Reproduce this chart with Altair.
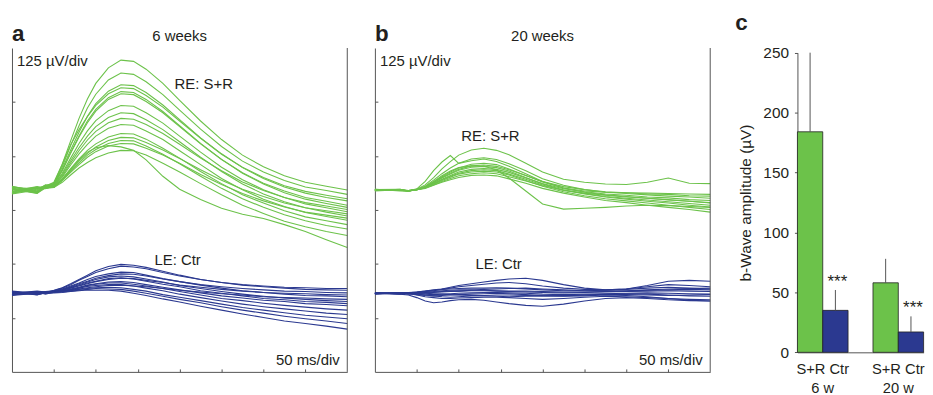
import altair as alt
import pandas as pd

# ---------------- data ----------------
T_MS = [0, 30, 40, 50, 60, 70, 80, 90, 100, 115, 130, 145, 160, 180, 200, 225, 250, 275, 300, 325, 350, 375, 400]

# panel a (6 weeks) - deviation from each trace group's baseline, in microvolts
GREEN_A = [
    [5, -6, 9, 18, 60, 114, 166, 211, 247, 283, 301, 298, 280, 247, 208, 160, 117, 81, 54, 33, 18, 9, 0],
    [-7, 4, 6, 16, 54, 103, 149, 190, 222, 255, 271, 268, 251, 221, 185, 141, 101, 67, 42, 22, 7, -1, -10],
    [8, -2, 11, 15, 49, 93, 134, 171, 200, 229, 244, 242, 226, 197, 163, 121, 84, 52, 27, 7, -7, -17, -25],
    [-4, 7, 5, 14, 60, 105, 140, 170, 196, 223, 237, 235, 219, 192, 160, 120, 83, 53, 29, 10, -3, -12, -20],
    [2, -8, 8, 14, 46, 87, 125, 160, 187, 214, 228, 226, 210, 182, 149, 108, 71, 39, 14, -6, -21, -31, -40],
    [6, 3, 4, 13, 45, 85, 123, 156, 183, 210, 223, 221, 205, 179, 147, 107, 71, 40, 16, -2, -17, -26, -35],
    [-8, 5, 10, 12, 39, 74, 108, 137, 161, 184, 196, 194, 179, 155, 125, 88, 53, 24, 1, -17, -32, -41, -50],
    [4, -5, 7, 11, 36, 68, 98, 125, 147, 168, 179, 177, 163, 140, 112, 76, 43, 14, -9, -27, -41, -51, -60],
    [-3, 8, 3, 10, 33, 63, 91, 116, 136, 156, 166, 164, 152, 131, 106, 74, 45, 19, -1, -17, -29, -37, -45],
    [7, -4, 9, 9, 30, 58, 84, 106, 125, 143, 152, 150, 137, 117, 91, 59, 27, 1, -21, -38, -52, -61, -70],
    [-5, 6, 6, 8, 26, 50, 72, 92, 107, 123, 131, 130, 118, 97, 74, 43, 15, -11, -30, -48, -62, -71, -80],
    [-9, 0, 12, 7, 24, 46, 67, 85, 100, 115, 122, 121, 110, 93, 73, 47, 23, 2, -15, -30, -41, -48, -55],
    [3, -7, 5, 7, 23, 44, 63, 81, 94, 108, 115, 114, 102, 83, 61, 32, 4, -20, -40, -57, -71, -82, -90],
    [-6, 2, 8, 6, 22, 41, 59, 76, 89, 102, 108, 107, 97, 81, 62, 36, 13, -8, -25, -39, -51, -58, -65],
    [9, -3, 7, 8, 25, 48, 70, 88, 98, 103, 100, 92, 70, 32, 2, -22, -42, -56, -66, -80, -96, -115, -133],
    [0, 6, 4, 6, 18, 35, 51, 64, 75, 86, 92, 91, 81, 62, 42, 15, -11, -35, -54, -72, -85, -96, -105],
]
BLUE_A = [
    [3, -4, 2, 7, 13, 22, 32, 42, 52, 62, 67, 65, 60, 51, 42, 32, 25, 19, 15, 12, 9, 8, 7],
    [-3, 3, 4, 6, 12, 20, 30, 39, 48, 57, 63, 61, 57, 48, 40, 32, 25, 20, 17, 14, 13, 11, 11],
    [5, 0, 2, 5, 10, 17, 24, 32, 39, 45, 49, 48, 42, 34, 27, 19, 12, 6, 2, -2, -5, -6, -8],
    [-4, 2, 1, 5, 9, 15, 22, 28, 35, 41, 45, 44, 40, 33, 27, 20, 15, 11, 8, 5, 4, 2, 1],
    [0, 5, 3, 4, 8, 14, 20, 26, 32, 38, 40, 38, 33, 26, 18, 11, 4, -2, -7, -11, -14, -17, -19],
    [2, -3, 1, 4, 8, 13, 18, 24, 28, 34, 36, 33, 28, 21, 15, 6, 0, -6, -12, -15, -19, -21, -24],
    [-2, 0, 4, 4, 7, 12, 17, 22, 27, 32, 35, 34, 30, 25, 19, 14, 9, 5, 2, 0, -1, -3, -4],
    [0, 4, 1, 3, 6, 10, 14, 19, 22, 26, 27, 25, 20, 14, 8, 1, -6, -11, -16, -19, -24, -26, -29],
    [4, -2, 1, 3, 6, 9, 13, 18, 21, 24, 24, 21, 17, 11, 4, -4, -12, -17, -23, -28, -32, -36, -39],
    [0, 3, -2, 3, 5, 8, 12, 16, 18, 20, 20, 17, 12, 6, -2, -10, -18, -25, -31, -36, -41, -46, -49],
    [-5, 0, 1, 2, 4, 7, 10, 13, 15, 18, 19, 17, 15, 11, 7, 3, -1, -4, -8, -10, -11, -13, -14],
    [2, -1, 3, 2, 4, 6, 9, 11, 13, 14, 13, 9, 5, -3, -9, -17, -25, -33, -39, -45, -51, -55, -59],
    [0, 2, 0, 2, 3, 5, 7, 9, 11, 10, 9, 5, 0, -7, -14, -22, -31, -39, -46, -53, -59, -64, -70],
    [-3, 0, 0, 1, 2, 4, 6, 8, 7, 7, 5, 0, -5, -13, -20, -30, -39, -48, -56, -64, -70, -76, -83],
]

# panel b (20 weeks)
GREEN_B = [
    [2, -1, -3, 2, 12, 29, 49, 66, 81, 93, 97, 92, 82, 62, 42, 25, 18, 14, 13, 18, 28, 16, 15],
    [0, 1, -2, 3, 20, 45, 65, 80, 62, 68, 72, 66, 55, 38, 20, 5, -2, -5, -6, -7, -8, -9, -10],
    [-1, 2, -2, 2, 9, 23, 38, 51, 62, 72, 75, 71, 61, 45, 26, 11, 1, -5, -8, -11, -14, -16, -19],
    [1, 0, -2, 1, 7, 19, 31, 42, 51, 60, 62, 59, 49, 34, 19, 5, -5, -11, -15, -19, -22, -26, -29],
    [-2, 1, -2, 1, 7, 17, 29, 39, 48, 56, 58, 55, 47, 34, 20, 8, 1, -4, -6, -9, -10, -13, -14],
    [0, -1, -2, 1, 7, 17, 28, 37, 46, 53, 55, 52, 44, 29, 14, 0, -9, -16, -21, -26, -30, -35, -39],
    [1, 2, -2, 1, 6, 15, 25, 34, 42, 48, 50, 48, 41, 28, 15, 3, -4, -9, -12, -16, -18, -22, -24],
    [-1, 0, -1, 1, 6, 14, 24, 32, 39, 45, 47, 45, 37, 25, 12, -1, -8, -15, -19, -23, -27, -31, -35],
    [2, -2, -1, 1, 5, 13, 22, 30, 37, 42, 44, 42, 35, 22, 9, -4, -13, -20, -25, -30, -35, -40, -45],
    [0, 1, -1, 1, 5, 12, 20, 27, 33, 38, 40, 38, 31, 21, 10, 0, -7, -12, -16, -19, -23, -26, -30],
    [-1, -1, -1, 1, 4, 11, 18, 24, 29, 34, 35, 33, 26, 16, 4, -7, -16, -24, -29, -35, -40, -45, -51],
    [1, 0, -2, 2, 8, 20, 33, 44, 52, 56, 55, 47, 28, -2, -32, -44, -42, -40, -37, -35, -36, -38, -40],
]
BLUE_B = [
    [0, 2, 1, 3, 5, 8, 10, 14, 18, 22, 26, 30, 33, 35, 30, 20, 12, 8, 10, 18, 28, 30, 28],
    [-1, 1, 0, 2, 4, 6, 9, 12, 15, 18, 21, 24, 25, 22, 17, 12, 9, 8, 10, 15, 20, 18, 15],
    [1, -1, 2, 3, 5, 7, 9, 10, 11, 12, 12, 13, 12, 10, 8, 6, 6, 7, 9, 12, 14, 12, 10],
    [0, 1, -1, 0, 2, 3, 4, 5, 5, 6, 6, 5, 4, 3, 2, 1, 2, 3, 4, 5, 6, 5, 4],
    [-1, 0, 1, -1, -2, -3, -2, -1, 0, 1, 2, 2, 1, 0, -2, -3, -2, -1, 0, 1, 0, -1, -2],
    [1, -2, 0, -3, -5, -6, -5, -4, -3, -2, -1, 0, -1, -3, -5, -6, -4, -2, -1, -2, -4, -6, -7],
    [0, -2, -4, -10, -18, -22, -20, -17, -15, -14, -16, -20, -24, -28, -30, -25, -18, -12, -10, -12, -15, -17, -18],
    [-2, 1, -1, -4, -8, -10, -12, -12, -11, -10, -9, -9, -10, -12, -14, -12, -9, -7, -8, -10, -12, -14, -15],
    [1, 0, 2, 2, 3, 4, 6, 7, 8, 8, 7, 6, 5, 5, 4, 3, 3, 4, 5, 7, 8, 9, 8],
    [0, -1, 0, 1, 0, -1, -2, -3, -4, -5, -6, -7, -8, -7, -6, -5, -4, -3, -3, -4, -5, -4, -3],
    [-1, 1, -2, -1, 1, 2, 3, 4, 5, 7, 9, 10, 11, 12, 10, 8, 6, 5, 6, 8, 10, 11, 12],
    [0, 0, 1, -2, -4, -6, -8, -9, -8, -6, -5, -4, -4, -5, -6, -7, -6, -4, -5, -8, -12, -16, -18],
]

GROUPS = ["RE: S+R", "LE: Ctr"]
BASELINE_UV = [421, 182]          # display offset of each trace group
X_TICKS = [50, 100, 150, 200, 250, 300, 350]
Y_TICKS = [125, 250, 375, 500, 625]

# panel c
WEEKS = ["6 w", "20 w"]
CONDS = ["S+R", "Ctr"]
MEAN_SR = [184, 58]
MEAN_CTR = [35, 17]
ERR_SR = [66, 20]
ERR_CTR = [17, 13]
SIG_CTR = ["***", "***"]
Y_VALUES_C = [0, 50, 100, 150, 200, 250]

# ---------------- styling ----------------
FONT = "Liberation Sans"
TXT = "#231f20"
AX = "#555555"
GREEN = "#6cc24a"
NAVY = "#2b3990"
W_AB = 337.5
H_AB = 326
W_C = 127
H_C = 306.3      # panel c view (shares its top with panels a and b)
C_TOP = 4.7      # where the 250 value sits below that top
LETTER_SIZE = 22.5
ONE = pd.DataFrame({"k": [0]})


def traces_df(green, blue):
    rows = []
    for grp, base, traces in ((GROUPS[0], BASELINE_UV[0], green), (GROUPS[1], BASELINE_UV[1], blue)):
        for i, tr in enumerate(traces):
            for t, v in zip(T_MS, tr):
                rows.append({"t": t, "uv": v + base, "trace": f"{grp}-{i}", "group": grp})
    return pd.DataFrame(rows)


def txt(text, x, y, align="left", size=15, weight="normal"):
    return alt.Chart(ONE).mark_text(
        text=text, align=align, baseline="alphabetic", fontSize=size,
        fontWeight=weight, color=TXT
    ).encode(x=x, y=y)


def trace_panel(df, letter, title, re_xy, le_xy):
    x = alt.X("t:Q", title=None,
              scale=alt.Scale(domain=[0, 400], nice=False, zero=False),
              axis=alt.Axis(orient="top", offset=-H_AB, values=X_TICKS, labels=False,
                            tickSize=3, tickColor=AX, domainColor=AX, grid=False))
    y = alt.Y("uv:Q", title=None,
              scale=alt.Scale(domain=[0, 750], nice=False, zero=False),
              axis=alt.Axis(orient="right", offset=-W_AB, values=Y_TICKS, labels=False,
                            tickSize=3, tickColor=AX, domainColor=AX, grid=False))
    lines = alt.Chart(df).mark_line(strokeWidth=1.1).encode(
        x=x, y=y, detail="trace:N",
        color=alt.Color("group:N", scale=alt.Scale(domain=GROUPS, range=[GREEN, NAVY]), legend=None),
    )
    frame = alt.Chart(pd.DataFrame({"t": [400]})).mark_rule(color=AX, strokeWidth=1).encode(x="t:Q")
    layers = [
        lines, frame,
        txt("125 \u00b5V/div", alt.datum(6), alt.datum(709)),
        txt(GROUPS[0], alt.datum(re_xy[0]), alt.datum(re_xy[1])),
        txt(GROUPS[1], alt.datum(le_xy[0]), alt.datum(le_xy[1])),
        txt("50 ms/div", alt.datum(391), alt.datum(17), align="right"),
        txt(title, alt.value(W_AB / 2), alt.value(-7), align="center"),
        txt(letter, alt.value(0), alt.value(-7.5), size=LETTER_SIZE, weight="bold"),
    ]
    return alt.layer(*layers).properties(width=W_AB, height=H_AB)


pa = trace_panel(traces_df(GREEN_A, BLUE_A), "a", "6 weeks", (194, 656), (170, 247))
pb = trace_panel(traces_df(GREEN_B, BLUE_B), "b", "20 weeks", (103, 534), (120, 239))

# bar panel
rows = []
for i, w in enumerate(WEEKS):
    rows.append({"week": w, "cond": CONDS[0], "mean": MEAN_SR[i], "upper": MEAN_SR[i] + ERR_SR[i], "star": ""})
    rows.append({"week": w, "cond": CONDS[1], "mean": MEAN_CTR[i], "upper": MEAN_CTR[i] + ERR_CTR[i], "star": SIG_CTR[i]})
bars_df = pd.DataFrame(rows)

cond_line = " ".join(CONDS)
y_axis = alt.Axis(values=Y_VALUES_C, tickSize=3, tickColor=AX, domainColor=AX, grid=False,
                  labelPadding=6, labelFontSize=15.5, labelColor=TXT,
                  titleFontSize=15.5, titleFontWeight="normal", titleColor=TXT,
                  titleAngle=270, titleAlign="center", titleBaseline="alphabetic",
                  titleX=-47, titleY=(H_C + C_TOP) / 2)
YTITLE = "b-Wave amplitude (\u00b5V)"
yscale = alt.Scale(domain=[0, 250], nice=False, range=[H_C, C_TOP])

base = alt.Chart(bars_df).encode(
    x=alt.X("week:N", sort=WEEKS, title=None,
            scale=alt.Scale(paddingInner=0.33, paddingOuter=0),
            axis=alt.Axis(labelAngle=0, ticks=False, labelPadding=9.5, labelFontSize=14.8,
                          labelColor=TXT, labelLineHeight=18.5, domainColor=AX,
                          labelExpr=f"['{cond_line}', datum.label]")),
    xOffset=alt.XOffset("cond:N", sort=CONDS, scale=alt.Scale(paddingInner=0, paddingOuter=0)),
)
bars = base.mark_bar(stroke="#222222", strokeWidth=0.8).encode(
    y=alt.Y("mean:Q", title=YTITLE, scale=yscale, axis=y_axis),
    color=alt.Color("cond:N", scale=alt.Scale(domain=CONDS, range=[GREEN, NAVY]), legend=None),
)
errs = base.mark_rule(color=AX, strokeWidth=1).encode(
    y=alt.Y("mean:Q", title=YTITLE, scale=yscale, axis=y_axis), y2="upper:Q")
stars = base.mark_text(dx=2, dy=-3, fontSize=17, baseline="alphabetic", color=TXT).encode(
    y=alt.Y("upper:Q", title=YTITLE, scale=yscale, axis=y_axis), text="star:N")
letter_c = txt("c", alt.value(-62.5), alt.value(-18), size=LETTER_SIZE, weight="bold")
pc = alt.layer(bars, errs, stars, letter_c).properties(width=W_C, height=H_C)

chart = (
    alt.hconcat(pa, pb, pc, spacing=22.3)
    .properties(padding={"left": 1, "top": 3, "right": 0, "bottom": 0})
    .configure(font=FONT)
    .configure_view(strokeWidth=0)
)
chart.save("out.html", embed_options={"renderer": "svg", "actions": False})
